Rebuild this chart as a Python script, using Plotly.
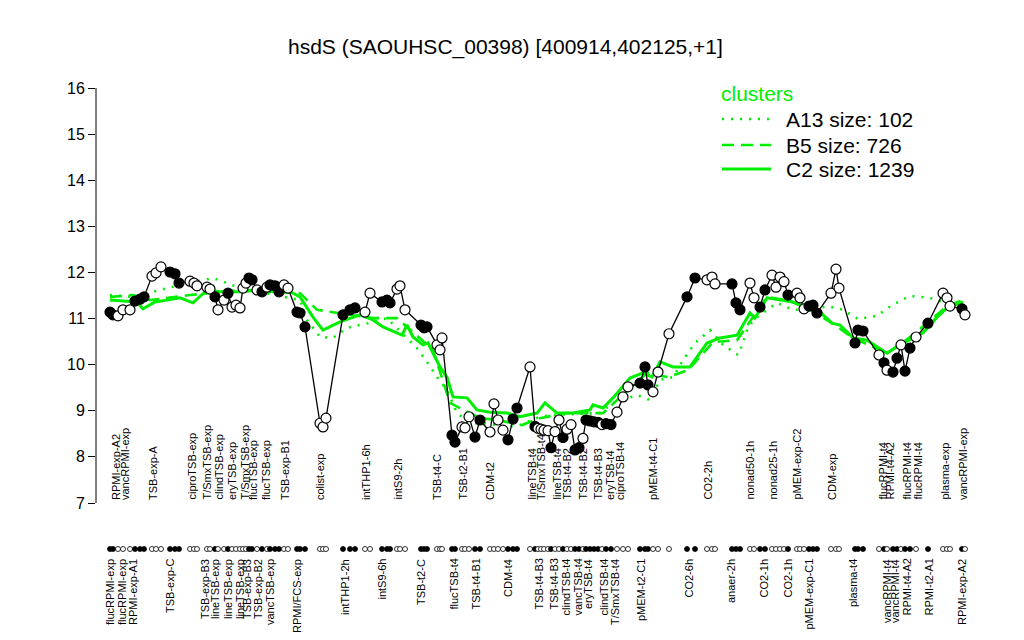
import plotly.graph_objects as go

# ---------------- data ----------------
positions = [110,113,118,123,130,135,140,144, 152,156,161, 170,175,179, 190,194,197,
             207,210,215,218,224,228,232,236,240,243,246,249,252,257,262,267,270,275,279,284,288,
             297,300,305, 320,323,326, 343,350,355, 365,370, 382,387,390, 397,400,405,
             421,424,427, 437,440,442, 452,455,462,465,469,475,480, 490,494,498,503,508,513,517,
             530, 535,538,541,544,548,551,555,559,563,567,571,575,579,583,586,590,594,598,602,606,611,
             617,623,628, 640,645,648,653,658, 669, 687,695, 707,712,715, 732,736,740,
             750,754,760,765,772,776,780,784,788, 797,800,804,809,813,817, 831,836,839,
             855,858,863, 879,884,887,893,897,901,905,910,916, 928, 943,947,950, 962,965]
values = [11.14,11.08,11.06,11.19,11.19,11.38,11.42,11.47, 11.92,11.99,12.12, 12.01,11.97,11.77, 11.81,11.77,11.71,
          11.68,11.64,11.47,11.19,11.40,11.55,11.25,11.29,11.23,11.66,11.77,11.88,11.84,11.62,11.58,11.68,11.73,11.71,11.58,11.73,11.66,
          11.14,11.12,10.82, 8.73,8.65,8.84, 11.08,11.19,11.23, 11.14,11.55, 11.36,11.40,11.34, 11.64,11.71,11.19,
          10.86,10.80,10.82, 10.43,10.32,10.58, 8.47,8.32,8.65,8.63,8.87,8.43,8.80, 8.54,9.15,8.80,8.58,8.37,8.82,9.06,
          9.95, 8.66,8.62,8.60,8.58,8.57,8.20,8.55,8.80,8.42,8.60,8.70,8.15,8.20,8.40,8.80,8.78,8.76,8.75,8.70,8.72,8.70,
          8.97,9.30,9.52, 9.60,9.95,9.56,9.41,9.84, 10.67, 11.47,11.88, 11.84,11.90,11.75, 11.75,11.34,11.19,
          11.77,11.45,11.25,11.62,11.94,11.68,11.90,11.80,11.51, 11.55,11.45,11.21,11.27,11.29,11.12, 11.55,12.07,11.66,
          10.47,10.75,10.73, 10.21,10.04,9.88,9.84,10.14,10.43,9.86,10.36,10.60, 10.90, 11.55,11.45,11.27, 11.21,11.08]
filled = [1,1,0,0,0,1,1,1, 0,0,0, 1,1,1, 0,0,0,
          0,0,1,0,0,1,0,0,0,0,0,1,1,0,1,0,1,1,1,0,0,
          1,1,1, 0,0,0, 1,1,1, 0,0, 1,1,1, 0,0,0,
          1,1,1, 0,0,0, 1,1,0,0,0,1,1, 0,0,0,0,1,1,1,
          0, 1,0,0,0,0,1,0,0,1,0,0,1,1,0,1,1,1,1,0,1,1,
          0,0,0, 1,1,1,0,0, 0, 1,1, 0,0,0, 1,1,1,
          0,0,1,1,0,0,0,0,1, 0,0,0,1,1,1, 0,0,0,
          1,1,1, 0,1,0,1,1,0,1,1,0, 1, 0,0,0, 1,0]

top_labels = ["RPMI-exp-A2","vancRPMI-exp","TSB-exp-A","ciproTSB-exp","T/SmxTSB-exp","clindTSB-exp","eryTSB-exp",
              "T/SmxTSB-exp","flucTSB-exp","flucTSB-exp","TSB-exp-B1","colist-exp","intTHP1-6h","intS9-2h","TSB-t4-C",
              "TSB-t2-B1","CDM-t2","lineTSB-t4","T/SmxTSB-t4","lineTSB-t4","TSB-t4-B2","TSB-t4-B2","TSB-t4-B3","eryTSB-t4",
              "ciproTSB-t4","pMEM-t4-C1","CO2-2h","nonad50-1h","nonad25-1h","pMEM-exp-C2","CDM-exp","flucRPMI-t4",
              "RPMI-t4-A2","flucRPMI-t4","flucRPMI-t4","plasma-exp","vancRPMI-exp"]
top_pos = [116,125,153,192,207,219,232,245,253,266,285,320,366,398,437,463,490,532,541,557,567,583,598,610,620,
           653,708,750,773,797,832,883,890,907,918,945,963]
bottom_labels = ["flucRPMI-exp","flucRPMI-exp","RPMI-exp-A1","TSB-exp-C","TSB-exp-B3","lineTSB-exp","lineTSB-exp",
                 "lineTSB-exp","TSB-exp-B3","TSB-exp-B2","vancTSB-exp","RPMI/FCS-exp","intTHP1-2h","intS9-6h","TSB-t2-C",
                 "flucTSB-t4","TSB-t4-B1","CDM-t4","TSB-t4-B3","TSB-t4-B3","clindTSB-t4","vancTSB-t4","eryTSB-t4",
                 "clindTSB-t4","T/SmxTSB-t4","pMEM-t2-C1","CO2-6h","anaer-2h","CO2-1h","CO2-1h","pMEM-exp-C1",
                 "plasma-t4","vancRPMI-t4","vancRPMI-t4","RPMI-t4-A2","RPMI-t2-A1","RPMI-exp-A2"]
bottom_pos = [110,122,133,170,205,215,228,240,247,258,270,297,345,381,421,453,475,508,538,553,565,577,588,603,615,
              641,688,731,763,787,808,853,887,895,906,928,962]

# cluster mean profiles (position, value)
c2_pos = [110,137,143,155,167,180,193,207,220,243,257,273,287,300,313,323,340,360,373,383,402,407,413,423,428,440,447,
          453,467,477,490,507,520,537,545,557,573,590,593,603,613,630,643,652,660,673,690,707,720,737,750,755,767,780,
          793,807,820,832,840,853,867,887,900,913,923,937,947,963]
c2_val = [11.40,11.36,11.21,11.36,11.40,11.45,11.34,11.62,11.58,11.58,11.62,11.58,11.62,11.47,11.03,10.75,10.93,11.08,
          10.97,10.82,10.64,10.86,10.60,10.43,10.47,9.95,9.73,9.30,9.28,9.02,8.97,8.95,8.87,8.95,9.17,8.95,8.95,9.02,
          9.13,9.06,9.28,9.71,9.82,9.73,10.06,9.95,9.95,10.47,10.58,10.64,11.12,11.01,11.45,11.40,11.36,11.23,11.14,
          10.90,10.86,10.58,10.53,10.25,10.43,10.58,10.69,11.03,11.23,11.36]
b5_pos = [110,133,150,190,240,300,317,333,373,397,433,450,460,480,497,522,540,567,603,617,647,668,688,713,737,767,787,
          807,830,853,887,913,947,963]
b5_val = [11.47,11.51,11.40,11.51,11.62,11.55,11.19,11.14,11.01,11.01,10.32,9.17,9.06,8.84,8.80,8.69,8.84,8.95,8.95,
          9.23,9.82,9.73,9.88,10.49,10.53,11.47,11.40,11.23,10.93,10.58,10.25,10.64,11.27,11.40]
a13_pos = [110,133,167,213,227,240,300,307,320,333,347,368,387,417,427,437,447,457,470,487,503,520,540,553,600,613,637,
           650,660,673,683,695,710,723,738,743,748,757,777,793,813,827,843,858,877,892,910,930,943,963]
a13_val = [11.51,11.47,11.66,11.88,11.77,11.66,11.40,10.97,10.60,10.58,10.80,10.90,11.01,10.36,10.06,9.73,9.45,8.95,
           8.73,8.73,8.65,8.69,8.87,8.91,8.95,9.17,9.34,9.23,9.67,9.73,10.10,10.47,10.75,10.43,10.21,10.47,10.82,11.03,
           11.34,11.19,11.19,11.27,11.19,10.99,11.06,11.29,11.49,11.45,11.36,11.36]

legend_names = ["A13 size: 102", "B5 size: 726", "C2 size: 1239"]
y_ticks = [7, 8, 9, 10, 11, 12, 13, 14, 15, 16]
title_text = "hsdS (SAOUHSC_00398) [400914,402125,+1]"

# ---------------- layout helpers (screen pixel geometry) ----------------
SCREEN_W, SCREEN_H = 1024, 640
OFF = 8                                   # page body margin
W, H = SCREEN_W - OFF, SCREEN_H - OFF     # figure size
Y_TOP_PX, Y_BOT_PX = 88, 503              # screen rows of 16 and 7
PX_PER_UNIT = (Y_BOT_PX - Y_TOP_PX) / 9.0
LEFT = 96                                 # screen column of the y axis
GREEN = "#00ee00"
FONT = "Liberation Sans, Arial, Helvetica, sans-serif"


def yval(py):
    return 7 + (Y_BOT_PX - py) / PX_PER_UNIT


def ppy(py):
    return 1 - (py - OFF) / H


Y_MIN, Y_MAX = yval(SCREEN_H), yval(OFF)

fig = go.Figure()

# cluster lines
fig.add_trace(go.Scatter(x=a13_pos, y=a13_val, mode="lines",
                         line=dict(color=GREEN, width=2.6, dash="2px,7px"), hoverinfo="skip"))
fig.add_trace(go.Scatter(x=b5_pos, y=b5_val, mode="lines",
                         line=dict(color=GREEN, width=2.6, dash="12px,7px"), hoverinfo="skip"))
fig.add_trace(go.Scatter(x=c2_pos, y=c2_val, mode="lines",
                         line=dict(color=GREEN, width=3), hoverinfo="skip"))

# sample profile
fig.add_trace(go.Scatter(x=positions, y=values, mode="lines",
                         line=dict(color="black", width=1.3), hoverinfo="skip"))
colors = ["black" if f else "white" for f in filled]
fig.add_trace(go.Scatter(x=positions, y=values, mode="markers",
                         marker=dict(size=10, color=colors, line=dict(color="black", width=1.2))))

# strip of sample dots
fig.add_trace(go.Scatter(x=positions, y=[yval(549)] * len(positions), mode="markers",
                         marker=dict(size=5, color=colors, line=dict(color="black", width=0.8))))

annotations = []
for name, p in zip(top_labels, top_pos):
    annotations.append(dict(x=p, y=ppy(502), xref="x", yref="paper", text=name, textangle=-90,
                            showarrow=False, xanchor="center", yanchor="bottom",
                            font=dict(size=11, color="black", family=FONT)))
for name, p in zip(bottom_labels, bottom_pos):
    annotations.append(dict(x=p, y=ppy(557), xref="x", yref="paper", text=name, textangle=-90,
                            showarrow=False, xanchor="center", yanchor="top",
                            font=dict(size=11, color="black", family=FONT)))

# title
annotations.append(dict(x=505, y=ppy(47), xref="x", yref="paper", text=title_text, showarrow=False,
                        xanchor="center", yanchor="middle", font=dict(size=21, color="black", family=FONT)))

# legend
annotations.append(dict(x=719, y=ppy(93), xref="x", yref="paper", text="clusters", showarrow=False,
                        xanchor="left", yanchor="middle", font=dict(size=21, color=GREEN, family=FONT)))
legend_rows = [119, 145, 169]
legend_dash = ["2px,7px", "12px,7px", "solid"]
shapes = []
for name, row, d in zip(legend_names, legend_rows, legend_dash):
    annotations.append(dict(x=784, y=ppy(row), xref="x", yref="paper", text=name, showarrow=False,
                            xanchor="left", yanchor="middle", font=dict(size=21, color="black", family=FONT)))
    shapes.append(dict(type="line", xref="x", yref="paper", x0=722, x1=771, y0=ppy(row), y1=ppy(row),
                       line=dict(color=GREEN, width=3 if d == "solid" else 2.6, dash=d)))

# y axis line
shapes.append(dict(type="line", xref="paper", yref="y", x0=0, x1=0, y0=7, y1=16,
                   line=dict(color="black", width=1)))

fig.update_layout(
    width=W, height=H,
    margin=dict(l=LEFT - OFF, r=0, t=0, b=0),
    paper_bgcolor="white", plot_bgcolor="white",
    showlegend=False,
    annotations=annotations, shapes=shapes,
    xaxis=dict(range=[LEFT, SCREEN_W], visible=False, fixedrange=True),
    yaxis=dict(range=[Y_MIN, Y_MAX], tickvals=y_ticks, ticktext=[str(t) for t in y_ticks],
               ticks="outside", ticklen=7, tickcolor="black", showgrid=False, zeroline=False,
               showline=False, tickfont=dict(size=16, color="black", family=FONT), fixedrange=True),
    font=dict(family=FONT),
)

fig.write_html("out.html")
